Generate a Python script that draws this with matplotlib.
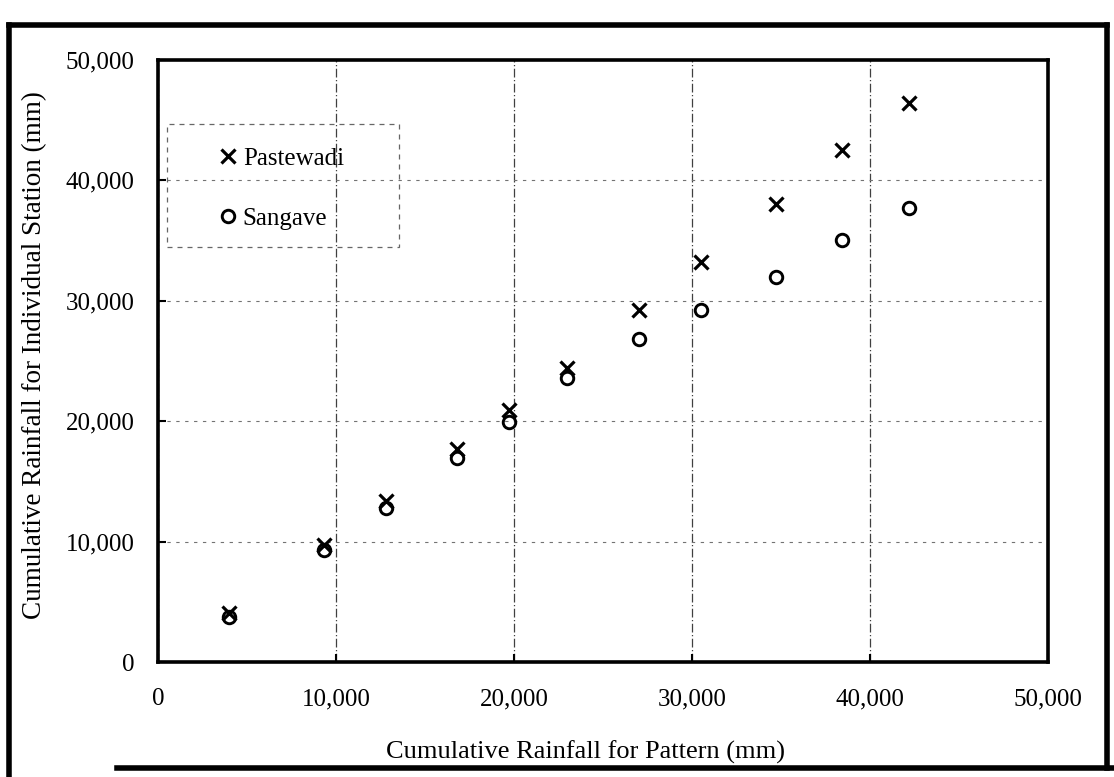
import matplotlib
matplotlib.use('Agg')
import matplotlib.pyplot as plt
from matplotlib.lines import Line2D
from matplotlib.patches import Rectangle
from matplotlib.ticker import FuncFormatter

plt.rcParams['font.family'] = ['Liberation Serif', 'DejaVu Serif']

# cumulative rainfall for the pattern (mm)
pattern = [4000, 9300, 12800, 16800, 19700, 23000, 27000, 30500, 34700, 38400, 42200]
# cumulative rainfall for each station (mm)
pastewadi = [4100, 9700, 13400, 17700, 20900, 24400, 29200, 33200, 38000, 42500, 46400]
sangave = [3700, 9300, 12800, 16900, 19900, 23600, 26800, 29200, 32000, 35000, 37700]

ticks = [0, 10000, 20000, 30000, 40000, 50000]

fig = plt.figure(figsize=(11.14, 7.77), dpi=100)
ax = fig.add_axes([0.1418, 0.148, 0.799, 0.775])

ax.plot(pattern, pastewadi, 'x', color='black', markersize=10, mew=2.3, label='Pastewadi')
ax.plot(pattern, sangave, 'o', color='black', markersize=9, mew=2.1,
        markerfacecolor='none', label='Sangave')

ax.set_xlim(0, 50000)
ax.set_ylim(0, 50000)
ax.set_xticks(ticks)
ax.set_yticks(ticks)
fmt = FuncFormatter(lambda v, p: f'{int(v):,}')
ax.xaxis.set_major_formatter(fmt)
ax.yaxis.set_major_formatter(fmt)

# gridlines: vertical dash-dot, horizontal dotted
ax.grid(axis='x', color='0.25', linestyle=(0, (7, 2, 1, 2)), linewidth=0.9)
ax.grid(axis='y', color='0.45', linestyle=(0, (3, 5)), linewidth=0.8)

for s in ax.spines.values():
    s.set_linewidth(2.6)

ax.tick_params(axis='both', direction='in', length=6, width=1.5, labelsize=18)
ax.tick_params(axis='x', pad=19)
ax.tick_params(axis='y', pad=17)

ax.set_xlabel('Cumulative Rainfall for Pattern (mm)', fontsize=19)
ax.set_ylabel('Cumulative Rainfall for Individual Station (mm)', fontsize=19.5)
ax.xaxis.set_label_coords(0.48, -0.13)
ax.yaxis.set_label_coords(-0.125, 0.51)

# legend with a dashed grey box
ax.add_patch(Rectangle((0.010, 0.690), 0.261, 0.2027, transform=ax.transAxes,
                       fill=False, edgecolor='0.4', linestyle=(0, (4, 4)),
                       linewidth=0.9, zorder=3))
ax.legend(loc='upper left', bbox_to_anchor=(0.070, 0.855), frameon=False,
          fontsize=18, handlelength=0.6, handletextpad=0.3, labelspacing=1.5,
          borderaxespad=0, borderpad=0)

# outer frame of the scanned figure
frame = dict(color='black', linewidth=4, transform=fig.transFigure)
fig.add_artist(Line2D([0.008, 0.008], [0.0, 0.968], **frame))
fig.add_artist(Line2D([0.008, 0.994], [0.968, 0.968], **frame))
fig.add_artist(Line2D([0.994, 0.994], [0.968, 0.012], **frame))
fig.add_artist(Line2D([0.105, 1.0], [0.012, 0.012], **frame))

fig.savefig('out.png', dpi=100, facecolor='white')
